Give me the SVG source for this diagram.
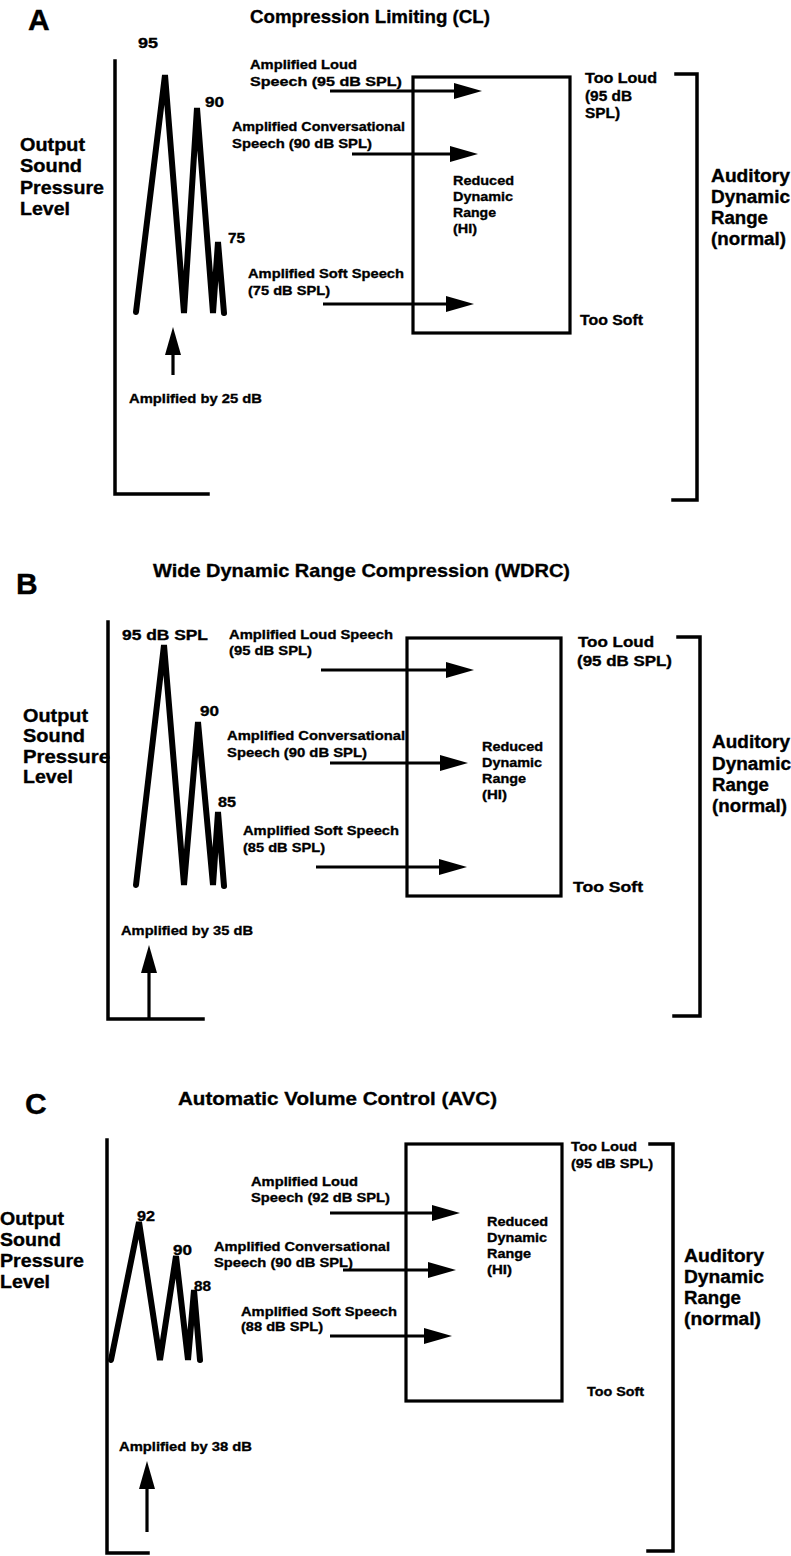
<svg xmlns="http://www.w3.org/2000/svg" width="791" height="1556" viewBox="0 0 791 1556">
<style>
text{font-family:"Liberation Sans",Arial,sans-serif;font-weight:bold;fill:#000;stroke:#000;stroke-width:0.35}
.p{font-size:30px}
.t{font-size:19px}
.l{font-size:18px}
.s{font-size:13.5px}
.n{font-size:14.5px}
.ax{fill:none;stroke:#000;stroke-width:3.5;stroke-linecap:square}
.wave{fill:none;stroke:#000;stroke-width:6;stroke-linejoin:miter;stroke-linecap:round}
.box{fill:none;stroke:#000;stroke-width:3.2}
.arr{fill:none;stroke:#000;stroke-width:3.2;marker-end:url(#ah)}
</style>
<defs>
<marker id="ah" markerUnits="userSpaceOnUse" markerWidth="28" markerHeight="16" refX="0" refY="8" orient="auto" overflow="visible">
<path d="M0,0 L28,8 L0,16 Z" fill="#000"/>
</marker>
</defs>
<rect width="791" height="1556" fill="#fff"/>

<!-- Panel A -->
<g id="panelA">
<text class="p" x="28" y="30">A</text>
<text class="t" x="250" y="23" textLength="240" lengthAdjust="spacingAndGlyphs">Compression Limiting (CL)</text>
<g id="A-ylabel">
<text class="l" x="20" y="151" textLength="65" lengthAdjust="spacingAndGlyphs">Output</text>
<text class="l" x="20" y="172" textLength="62" lengthAdjust="spacingAndGlyphs">Sound</text>
<text class="l" x="20" y="194" textLength="84" lengthAdjust="spacingAndGlyphs">Pressure</text>
<text class="l" x="20" y="215" textLength="50" lengthAdjust="spacingAndGlyphs">Level</text>
</g>
<g id="A-axis"><path class="ax" d="M115,61 V494 H208"/></g>
<g id="A-wave">
<polyline class="wave" points="136,312 165,75 184,313 197,108 213,313 218,242 224,313"/>
<text class="n" x="138" y="48" textLength="20" lengthAdjust="spacingAndGlyphs">95</text>
<text class="n" x="205" y="107" textLength="19" lengthAdjust="spacingAndGlyphs">90</text>
<text class="n" x="228" y="243" textLength="17" lengthAdjust="spacingAndGlyphs">75</text>
</g>
<g id="A-amp">
<text class="s" x="129" y="403" textLength="133" lengthAdjust="spacingAndGlyphs">Amplified by 25 dB</text>
</g>
<g id="A-loud">
<text class="s" x="250" y="69" textLength="107" lengthAdjust="spacingAndGlyphs">Amplified Loud</text>
<text class="s" x="250" y="86" textLength="152" lengthAdjust="spacingAndGlyphs">Speech  (95 dB SPL)</text>
</g>
<g id="A-conv">
<text class="s" x="232" y="131" textLength="173" lengthAdjust="spacingAndGlyphs">Amplified Conversational</text>
<text class="s" x="232" y="148" textLength="140" lengthAdjust="spacingAndGlyphs">Speech (90 dB SPL)</text>
</g>
<g id="A-soft">
<text class="s" x="248" y="278" textLength="156" lengthAdjust="spacingAndGlyphs">Amplified Soft Speech</text>
<text class="s" x="248" y="295" textLength="82" lengthAdjust="spacingAndGlyphs">(75 dB SPL)</text>
</g>
<g id="A-box">
<rect class="box" x="413" y="77" width="157" height="256"/>
<text class="s" x="453" y="185" textLength="61" lengthAdjust="spacingAndGlyphs">Reduced</text>
<text class="s" x="453" y="201" textLength="60" lengthAdjust="spacingAndGlyphs">Dynamic</text>
<text class="s" x="453" y="217" textLength="43" lengthAdjust="spacingAndGlyphs">Range</text>
<text class="s" x="453" y="233" textLength="24" lengthAdjust="spacingAndGlyphs">(HI)</text>
</g>
<g id="A-limits">
<text class="n" x="585" y="83" textLength="72" lengthAdjust="spacingAndGlyphs">Too Loud</text>
<text class="n" x="585" y="101" textLength="47" lengthAdjust="spacingAndGlyphs">(95 dB</text>
<text class="n" x="585" y="118" textLength="35" lengthAdjust="spacingAndGlyphs">SPL)</text>
<text class="n" x="580" y="325" textLength="63" lengthAdjust="spacingAndGlyphs">Too Soft</text>
</g>
<g id="A-bracket">
<path class="ax" d="M676,74 H697 V500 H673"/>
<text class="l" x="711" y="182" textLength="79" lengthAdjust="spacingAndGlyphs">Auditory</text>
<text class="l" x="711" y="203" textLength="79" lengthAdjust="spacingAndGlyphs">Dynamic</text>
<text class="l" x="711" y="224" textLength="57" lengthAdjust="spacingAndGlyphs">Range</text>
<text class="l" x="711" y="245" textLength="75" lengthAdjust="spacingAndGlyphs">(normal)</text>
</g>
</g>

<!-- Panel B -->
<g id="panelB">
<text class="p" x="16" y="594">B</text>
<text class="t" x="153" y="577" textLength="417" lengthAdjust="spacingAndGlyphs">Wide Dynamic Range Compression  (WDRC)</text>
<g id="B-ylabel">
<text class="l" x="23" y="722" textLength="65" lengthAdjust="spacingAndGlyphs">Output</text>
<text class="l" x="23" y="742" textLength="62" lengthAdjust="spacingAndGlyphs">Sound</text>
<text class="l" x="23" y="763" textLength="87" lengthAdjust="spacingAndGlyphs">Pressure</text>
<text class="l" x="23" y="783" textLength="50" lengthAdjust="spacingAndGlyphs">Level</text>
</g>
<g id="B-axis"><path class="ax" d="M108,622 V1019 H203"/></g>
<g id="B-wave">
<polyline class="wave" points="136,885 164,645 184,885 198,722 213,885 218,812 224,886"/>
<text class="n" x="122" y="640" textLength="86" lengthAdjust="spacingAndGlyphs">95 dB SPL</text>
<text class="n" x="200" y="716" textLength="19" lengthAdjust="spacingAndGlyphs">90</text>
<text class="n" x="218" y="807" textLength="18" lengthAdjust="spacingAndGlyphs">85</text>
</g>
<g id="B-amp">
<text class="s" x="121" y="935" textLength="132" lengthAdjust="spacingAndGlyphs">Amplified by 35 dB</text>
</g>
<g id="B-loud">
<text class="s" x="229" y="639" textLength="164" lengthAdjust="spacingAndGlyphs">Amplified Loud Speech</text>
<text class="s" x="229" y="655" textLength="83" lengthAdjust="spacingAndGlyphs">(95 dB SPL)</text>
</g>
<g id="B-conv">
<text class="s" x="227" y="740" textLength="178" lengthAdjust="spacingAndGlyphs">Amplified Conversational</text>
<text class="s" x="227" y="757" textLength="140" lengthAdjust="spacingAndGlyphs">Speech (90 dB SPL)</text>
</g>
<g id="B-soft">
<text class="s" x="243" y="835" textLength="156" lengthAdjust="spacingAndGlyphs">Amplified Soft Speech</text>
<text class="s" x="243" y="852" textLength="82" lengthAdjust="spacingAndGlyphs">(85 dB SPL)</text>
</g>
<g id="B-box">
<rect class="box" x="407" y="638" width="154" height="258"/>
<text class="s" x="482" y="751" textLength="61" lengthAdjust="spacingAndGlyphs">Reduced</text>
<text class="s" x="482" y="767" textLength="60" lengthAdjust="spacingAndGlyphs">Dynamic</text>
<text class="s" x="482" y="783" textLength="44" lengthAdjust="spacingAndGlyphs">Range</text>
<text class="s" x="482" y="799" textLength="25" lengthAdjust="spacingAndGlyphs">(HI)</text>
</g>
<g id="B-limits">
<text class="n" x="578" y="647" textLength="76" lengthAdjust="spacingAndGlyphs">Too Loud</text>
<text class="n" x="577" y="666" textLength="95" lengthAdjust="spacingAndGlyphs">(95 dB SPL)</text>
<text class="n" x="573" y="892" textLength="70" lengthAdjust="spacingAndGlyphs">Too Soft</text>
</g>
<g id="B-bracket">
<path class="ax" d="M678,637 H700 V1016 H674"/>
<text class="l" x="712" y="748" textLength="78" lengthAdjust="spacingAndGlyphs">Auditory</text>
<text class="l" x="712" y="770" textLength="79" lengthAdjust="spacingAndGlyphs">Dynamic</text>
<text class="l" x="712" y="791" textLength="57" lengthAdjust="spacingAndGlyphs">Range</text>
<text class="l" x="712" y="812" textLength="75" lengthAdjust="spacingAndGlyphs">(normal)</text>
</g>
</g>

<!-- Panel C -->
<g id="panelC">
<text class="p" x="25" y="1114">C</text>
<text class="t" x="178" y="1105" textLength="319" lengthAdjust="spacingAndGlyphs">Automatic Volume Control (AVC)</text>
<g id="C-ylabel">
<text class="l" x="0" y="1225" textLength="64" lengthAdjust="spacingAndGlyphs">Output</text>
<text class="l" x="0" y="1246" textLength="61" lengthAdjust="spacingAndGlyphs">Sound</text>
<text class="l" x="0" y="1267" textLength="84" lengthAdjust="spacingAndGlyphs">Pressure</text>
<text class="l" x="0" y="1288" textLength="50" lengthAdjust="spacingAndGlyphs">Level</text>
</g>
<g id="C-axis"><path class="ax" d="M107,1140 V1553 H148"/></g>
<g id="C-wave">
<polyline class="wave" points="111,1360 139,1222 160,1360 176,1256 188,1360 194,1290 200,1360"/>
<text class="n" x="137" y="1221" textLength="18" lengthAdjust="spacingAndGlyphs">92</text>
<text class="n" x="173" y="1255" textLength="19" lengthAdjust="spacingAndGlyphs">90</text>
<text class="n" x="194" y="1291" textLength="17" lengthAdjust="spacingAndGlyphs">88</text>
</g>
<g id="C-amp">
<text class="s" x="119" y="1451" textLength="133" lengthAdjust="spacingAndGlyphs">Amplified by 38 dB</text>
</g>
<g id="C-loud">
<text class="s" x="251" y="1186" textLength="107" lengthAdjust="spacingAndGlyphs">Amplified Loud</text>
<text class="s" x="251" y="1202" textLength="139" lengthAdjust="spacingAndGlyphs">Speech (92 dB SPL)</text>
</g>
<g id="C-conv">
<text class="s" x="214" y="1251" textLength="176" lengthAdjust="spacingAndGlyphs">Amplified Conversational</text>
<text class="s" x="214" y="1267" textLength="139" lengthAdjust="spacingAndGlyphs">Speech (90 dB SPL)</text>
</g>
<g id="C-soft">
<text class="s" x="241" y="1316" textLength="156" lengthAdjust="spacingAndGlyphs">Amplified Soft Speech</text>
<text class="s" x="241" y="1331" textLength="82" lengthAdjust="spacingAndGlyphs">(88 dB SPL)</text>
</g>
<g id="C-box">
<rect class="box" x="406" y="1144" width="156" height="257"/>
<text class="s" x="487" y="1226" textLength="61" lengthAdjust="spacingAndGlyphs">Reduced</text>
<text class="s" x="487" y="1242" textLength="60" lengthAdjust="spacingAndGlyphs">Dynamic</text>
<text class="s" x="487" y="1258" textLength="44" lengthAdjust="spacingAndGlyphs">Range</text>
<text class="s" x="487" y="1274" textLength="25" lengthAdjust="spacingAndGlyphs">(HI)</text>
</g>
<g id="C-limits">
<text class="s" x="571" y="1151" textLength="66" lengthAdjust="spacingAndGlyphs">Too Loud</text>
<text class="s" x="571" y="1168" textLength="82" lengthAdjust="spacingAndGlyphs">(95 dB SPL)</text>
<text class="s" x="587" y="1396" textLength="57" lengthAdjust="spacingAndGlyphs">Too Soft</text>
</g>
<g id="C-bracket">
<path class="ax" d="M650,1144 H673 V1551 H648"/>
<text class="l" x="684" y="1262" textLength="80" lengthAdjust="spacingAndGlyphs">Auditory</text>
<text class="l" x="684" y="1283" textLength="80" lengthAdjust="spacingAndGlyphs">Dynamic</text>
<text class="l" x="684" y="1304" textLength="57" lengthAdjust="spacingAndGlyphs">Range</text>
<text class="l" x="684" y="1325" textLength="77" lengthAdjust="spacingAndGlyphs">(normal)</text>
</g>
</g>

<!-- Connectors -->
<g id="connectors">
<line class="arr" x1="330" y1="91" x2="454" y2="91"/>
<line class="arr" x1="352" y1="154" x2="450" y2="154"/>
<line class="arr" x1="323" y1="304" x2="446" y2="304"/>
<line class="arr" x1="173" y1="375" x2="173" y2="355"/>
<line class="arr" x1="321" y1="670" x2="446" y2="670"/>
<line class="arr" x1="330" y1="763" x2="440" y2="763"/>
<line class="arr" x1="316" y1="867" x2="439" y2="867"/>
<line class="arr" x1="149" y1="1018" x2="149" y2="973"/>
<line class="arr" x1="330" y1="1213" x2="432" y2="1213"/>
<line class="arr" x1="343" y1="1270" x2="428" y2="1270"/>
<line class="arr" x1="330" y1="1336" x2="424" y2="1336"/>
<line class="arr" x1="147" y1="1532" x2="147" y2="1489"/>
</g>
</svg>
